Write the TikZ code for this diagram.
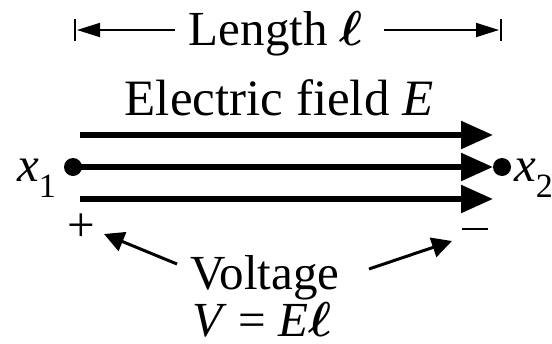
\documentclass[tikz,border=0pt]{standalone}
\usepackage{fix-cm}
\usepackage{fontspec}
\setmainfont{Liberation Serif}
\usetikzlibrary{arrows.meta}
\newcommand{\bigfont}{\fontsize{49}{49}\selectfont}
\newcommand{\subfont}{\fontsize{34}{34}\selectfont}
\newcommand{\ellsym}{{\boldmath$\ell$}}
\begin{document}
\begin{tikzpicture}[x=1pt,y=-1pt,
  lbl/.style={inner sep=0pt,anchor=base,font=\bigfont},
  field/.style={line width=5.5pt,-{Triangle[length=32pt,width=27pt]}},
  dim/.style={line width=1.8pt,-{Triangle[length=23pt,width=14pt]}},
  bar/.style={line width=1.8pt},
  volt/.style={line width=3pt,-{Triangle[length=20pt,width=20pt]}},
  dot/.style={circle,fill=black,inner sep=0pt,minimum size=18pt}]
\useasboundingbox (0,0) rectangle (552,343);
% length dimension
\node[lbl] (len) at (276,45) {Length \ellsym};
\coordinate (lb1) at (75,19); \coordinate (lb2) at (75,41);
\coordinate (rb1) at (501,19); \coordinate (rb2) at (501,41);
\coordinate (ltip) at (77,30); \coordinate (rtip) at (499,30);
\coordinate (ls) at (175,30); \coordinate (rs) at (384,30);
\draw[bar] (lb1) -- (lb2);
\draw[bar] (rb1) -- (rb2);
\draw[dim] (ls) -- (ltip);
\draw[dim] (rs) -- (rtip);
% electric field
\node[lbl,font=\fontsize{51}{51}\selectfont] (ef) at (279,115) {Electric field \textit{E}};
\coordinate (a1s) at (80,135); \coordinate (a1e) at (493,135);
\coordinate (a3s) at (80,199); \coordinate (a3e) at (493,199);
\node[dot] (p1) at (73,167) {};
\node[dot] (p2) at (502,167) {};
\coordinate (a2e) at (493,167);
\draw[field] (a1s) -- (a1e);
\draw[field] (p1.center) -- (a2e);
\draw[field] (a3s) -- (a3e);
\node[inner sep=0pt,anchor=base east,font=\bigfont] (x1) at (56,181) {\textit{x}\raisebox{-16pt}{\subfont 1}};
\node[inner sep=0pt,anchor=base west,font=\bigfont] (x2) at (514,181) {\textit{x}\raisebox{-16pt}{\subfont 2}};
% polarity
\node[inner sep=0pt,font=\bigfont] (plus) at (81,228) {+};
\node[inner sep=0pt] (minus) at (475,229) {\rule{26pt}{2pt}};
% voltage
\node[lbl] (volt) at (265,289) {Voltage};
\node[lbl] (vel) at (262,336) {\textit{V} = \textit{E}\ellsym};
\coordinate (v1s) at (177,264); \coordinate (v1e) at (104,234);
\coordinate (v2s) at (369,269); \coordinate (v2e) at (452,241);
\draw[volt] (v1s) -- (v1e);
\draw[volt] (v2s) -- (v2e);
\end{tikzpicture}
\end{document}
